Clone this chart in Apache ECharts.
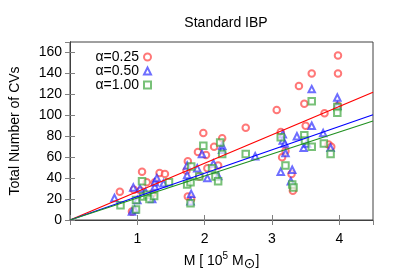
<!DOCTYPE html>
<html>
<head>
<meta charset="utf-8">
<script src="https://cdn.jsdelivr.net/npm/echarts@6/dist/echarts.min.js"></script>
<style>html,body{margin:0;padding:0;background:#fff}#c{width:399px;height:279px}</style>
</head>
<body>
<div id="c"></div>
<script>
const titleText = 'Standard IBP';
const yTitle = 'Total Number of CVs';
const seriesNames = ['α=0.25', 'α=0.50', 'α=1.00'];

// [M (10^5 Msun), N CVs]
const alpha025 = [
  [0.74,27],[0.92,8],[0.95,29],[1.05,28],[1.07,46],[1.14,36],[1.22,25],[1.26,36],
  [1.33,45],[1.41,44],[1.73,47],[1.75,56],[1.75,22.5],[1.80,20],[1.90,65],[1.92,41.5],
  [1.98,83],[2.02,62],[2.04,49.5],[2.14,70],[2.20,52],[2.26,78],[2.61,88],[3.07,105],
  [3.13,84],[3.15,60],[3.20,66],[3.29,44],[3.31,28],[3.40,128],[3.48,111],[3.50,90],
  [3.59,140],[3.78,102],[3.84,72],[3.88,70],[3.98,157],[3.98,140],[3.98,109]
];
const alpha050 = [
  [0.66,21],[0.92,8],[0.94,31],[0.96,10],[1.00,19],[1.04,30],[1.12,27],[1.22,20],
  [1.26,32],[1.26,36],[1.29,40],[1.39,35],[1.74,52],[1.74,43],[1.79,18],[1.80,25],
  [1.89,49.5],[1.96,63],[2.04,40],[2.13,54],[2.20,42],[2.26,71],[2.26,67],[2.75,61],
  [3.13,46],[3.16,82],[3.16,76],[3.19,73],[3.20,64],[3.28,37],[3.30,48],[3.37,80],
  [3.47,69],[3.52,73],[3.59,125],[3.59,90],[3.76,83],[3.87,69],[3.97,117],[3.97,109]
];
const alpha100 = [
  [0.75,14],[0.98,19],[0.98,10],[1.07,37],[1.09,22.5],[1.15,24],[1.18,20],[1.25,23],
  [1.47,36],[1.74,34],[1.79,36],[1.79,16],[1.80,51],[1.92,41.5],[1.98,71],[2.11,49.5],
  [2.16,41.5],[2.20,37],[2.23,74],[2.26,63],[2.61,63],[3.13,79],[3.20,52],[3.30,34],
  [3.32,31],[3.48,81],[3.49,76],[3.59,113.5],[3.59,70],[3.77,73],[3.87,63],[3.97,108],
  [3.97,102.5]
];
// linear fits through origin: endpoints
const fit025 = [[0,0],[4.5,122]];
const fit050 = [[0,0],[4.5,100.5]];
const fit100 = [[0,0],[4.5,94.5]];

const xTicks = [1,2,3,4];

const chart = echarts.init(document.getElementById('c'), null, {renderer:'canvas'});
const font = 'Liberation Sans, Arial, Helvetica, sans-serif';
const frame = '#404040';
const axisCommon = {
  axisLine:{show:true, lineStyle:{color:frame, width:1}},
  splitLine:{show:false},
  axisTick:{show:true, inside:true, length:5, lineStyle:{color:'#808080', width:1}}
};
chart.setOption({
  animation:false,
  backgroundColor:'#fff',
  textStyle:{fontFamily:font},
  title:{text:titleText, left:221, top:11, textAlign:'center',
    textStyle:{fontSize:14, fontWeight:'normal', color:'#000', fontFamily:font}},
  grid:{left:68, right:26, top:42, bottom:59, show:true, borderColor:frame, borderWidth:1},
  legend:{
    data:seriesNames, orient:'vertical', left:81, top:45, align:'right',
    itemWidth:7, itemHeight:7, itemGap:0,
    textStyle:{fontSize:14, color:'#000', fontFamily:font, width:53, lineHeight:13.4}
  },
  xAxis:[
    Object.assign({type:'value', min:0, max:4.5, interval:1, position:'bottom',
      axisLabel:{fontSize:14, color:'#000', margin:12, showMaxLabel:false,
        formatter:v=> xTicks.indexOf(v) >= 0 ? String(v) : ''},
      name:'M [ 10{sup|5} M{sub|⊙}]', nameLocation:'middle', nameGap:30,
      nameTextStyle:{fontSize:14, color:'#000', fontFamily:font,
        rich:{sup:{fontSize:10, verticalAlign:'top', padding:[0,0,8,0], fontFamily:font, color:'#000'},
              sub:{fontSize:14, verticalAlign:'bottom', padding:[6,0,0,0], fontFamily:'DejaVu Sans', color:'#000'}}}
    }, axisCommon),
    Object.assign({type:'value', min:0, max:4.5, interval:1, position:'top',
      axisLabel:{show:false}}, axisCommon)
  ],
  yAxis:[
    Object.assign({type:'value', min:0, max:170, interval:20, position:'left',
      axisLabel:{fontSize:14, color:'#000', margin:8, showMaxLabel:false,
        formatter:v=> v<=160 ? String(v) : ''},
      name:yTitle, nameLocation:'middle', nameGap:48, nameRotate:90,
      nameTextStyle:{fontSize:14, color:'#000', fontFamily:font}
    }, axisCommon),
    Object.assign({type:'value', min:0, max:170, interval:20, position:'right',
      axisLabel:{show:false}}, axisCommon)
  ],
  series:[
    {name:seriesNames[0], type:'scatter', data:alpha025, symbol:'emptyCircle', symbolSize:6.5,
      itemStyle:{color:'#ff3030', borderColor:'#ff3030', borderWidth:0.9, opacity:0.65}, z:3},
    {name:seriesNames[1], type:'scatter', data:alpha050, symbol:'emptyTriangle', symbolSize:6.5,
      itemStyle:{color:'#2020ff', borderColor:'#2020ff', borderWidth:0.9, opacity:0.65}, z:3},
    {name:seriesNames[2], type:'scatter', data:alpha100, symbol:'emptyRect', symbolSize:6.5,
      itemStyle:{color:'#30a030', borderColor:'#30a030', borderWidth:0.9, opacity:0.65}, z:3},
    {name:'fit 0.25', type:'line', data:fit025, showSymbol:false, symbol:'none',
      lineStyle:{color:'#ff0000', width:1.2}, z:4},
    {name:'fit 0.50', type:'line', data:fit050, showSymbol:false, symbol:'none',
      lineStyle:{color:'#0000ff', width:1.2}, z:4},
    {name:'fit 1.00', type:'line', data:fit100, showSymbol:false, symbol:'none',
      lineStyle:{color:'#209020', width:1.2}, z:4}
  ]
});
</script>
</body>
</html>
